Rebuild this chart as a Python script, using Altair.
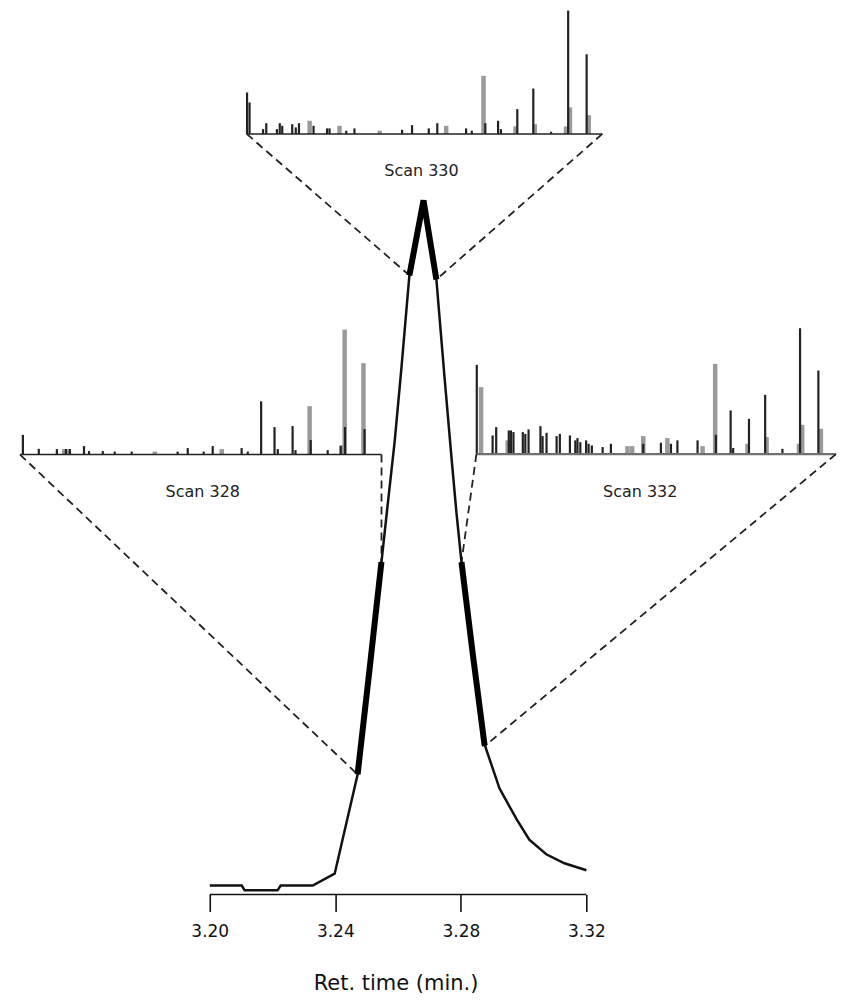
import altair as alt
import numpy as np
import pandas as pd

# ---------------- data ----------------
# total-ion chromatogram (retention time in min, relative intensity)
chrom_t = [3.2000, 3.2102, 3.2111, 3.2216, 3.2226, 3.2328, 3.2398, 3.2471, 3.2509,
           3.2547, 3.2566, 3.2589, 3.2611, 3.2636, 3.2681, 3.2722, 3.2748, 3.2770,
           3.2786, 3.2802, 3.2837, 3.2875, 3.2923, 3.2977, 3.3018, 3.3072, 3.3130, 3.3200]
chrom_i = [1.3, 1.3, 0.6, 0.6, 1.3, 1.3, 3.0, 17.3, 32.4,
           47.9, 55.8, 65.2, 76.0, 89.2, 100.0, 88.6, 74.5, 63.0,
           55.0, 47.9, 35.0, 21.7, 15.3, 10.9, 7.9, 5.8, 4.5, 3.5]

scan_names = ["Scan 328", "Scan 330", "Scan 332"]
scan_start = [3.2471, 3.2636, 3.2802]
scan_end = [3.2547, 3.2722, 3.2877]

axis_ticks = [3.20, 3.24, 3.28, 3.32]

# mass spectra: position along the m/z range (% of width), relative intensity (%)
s328_dark_pos = [0.8, 5.2, 10.2, 12.7, 13.8, 17.7, 19.1, 22.9, 26.2, 30.9, 43.6, 46.4, 50.8,
                 53.3, 61.3, 63.0, 66.7, 70.4, 71.3, 75.4, 76.2, 80.4, 85.1, 88.7, 89.9, 95.3]
s328_dark_int = [15.8, 4.6, 4.4, 4.4, 4.4, 6.8, 2.8, 2.8, 2.4, 2.4, 2.4, 5.2, 2.4,
                 6.8, 5.2, 2.4, 42.6, 22.0, 4.4, 22.8, 3.6, 11.6, 3.6, 6.8, 22.0, 20.4]
s328_gray_pos = [12.2, 13.5, 37.3, 55.8, 80.1, 89.0, 89.8, 95.0]
s328_gray_int = [4.4, 4.4, 2.4, 4.4, 38.7, 7.6, 100.0, 73.1]

s330_dark_pos = [0.1, 0.8, 4.6, 5.5, 8.5, 9.3, 10.0, 12.8, 13.8, 14.7, 18.8, 22.6, 23.3, 28.0,
                 30.3, 43.7, 46.5, 51.2, 53.6, 61.7, 63.3, 67.1, 70.7, 71.5, 76.1, 80.6, 85.6,
                 90.4, 95.6]
s330_dark_int = [33.6, 25.5, 3.9, 8.7, 3.9, 8.7, 6.6, 7.9, 5.3, 8.7, 6.6, 4.5, 4.5, 2.6,
                 4.5, 3.4, 7.1, 4.5, 8.7, 4.5, 2.6, 8.7, 10.7, 3.9, 20.1, 36.8, 1.8,
                 100.0, 64.6]
s330_gray_pos = [17.7, 26.1, 37.4, 56.1, 66.6, 75.6, 81.0, 89.8, 90.9, 96.2]
s330_gray_int = [10.7, 6.6, 2.6, 6.6, 47.1, 6.1, 7.9, 6.1, 21.5, 15.2]

s332_dark_pos = [0.1, 4.5, 5.5, 9.0, 9.6, 10.3, 12.9, 13.6, 14.5, 17.8, 18.4, 19.5, 22.3, 23.2,
                 26.0, 27.5, 28.1, 28.9, 30.5, 31.2, 32.1, 35.1, 37.4, 46.4, 51.3, 54.1, 55.9,
                 61.5, 66.6, 70.7, 71.4, 75.8, 80.3, 85.1, 90.0, 95.1]
s332_dark_int = [70.9, 14.8, 21.4, 18.8, 18.8, 17.5, 17.5, 16.1, 19.6, 22.2, 14.3, 16.9, 14.3, 16.1,
                 14.8, 10.9, 12.7, 9.5, 10.9, 8.2, 6.9, 5.6, 8.2, 8.2, 9.0, 8.2, 10.9,
                 10.9, 15.3, 34.7, 4.8, 28.0, 47.1, 4.2, 100.0, 66.4]
s332_gray_pos = [1.3, 8.7, 42.0, 43.3, 46.4, 53.1, 62.9, 66.4, 75.4, 80.7, 89.7, 90.6, 95.8]
s332_gray_int = [53.2, 10.9, 6.3, 6.3, 14.3, 12.7, 6.3, 71.7, 8.2, 13.5, 8.2, 23.3, 20.1]

spectra = {
    "Scan 328": (s328_dark_pos, s328_dark_int, s328_gray_pos, s328_gray_int),
    "Scan 330": (s330_dark_pos, s330_dark_int, s330_gray_pos, s330_gray_int),
    "Scan 332": (s332_dark_pos, s332_dark_int, s332_gray_pos, s332_gray_int),
}

# ---------------- layout of the insets (in chart coordinates) ----------------
INSETS = {
    #            left t    right t   base y  height  label t   label y  baseline colour, width
    "Scan 328": (3.13954, 3.25473, 63.38, 18.01, 3.19777, 58.0, "#222222", 1.6),
    "Scan 330": (3.21177, 3.32506, 109.57, 17.77, 3.26746, 104.3, "#222222", 1.6),
    "Scan 332": (3.28496, 3.39952, 63.45, 18.13, 3.33715, 58.0, "#707070", 2.4),
}
X_DOMAIN = [3.13572, 3.39984]
Y_DOMAIN = [0, 127.34]
FONT = "DejaVu Sans"

# ---------------- tables ----------------
chrom = pd.DataFrame({"t": chrom_t, "y": chrom_i})

thick_rows = []
for name, a, b in zip(scan_names, scan_start, scan_end):
    ts = [a] + [t for t in chrom_t if a < t < b] + [b]
    for k, t in enumerate(ts):
        thick_rows.append({"scan": name, "t": t, "y": float(np.interp(t, chrom_t, chrom_i)), "o": k})
thick = pd.DataFrame(thick_rows)

bar_rows, base_rows, conn_rows, label_rows = [], [], [], []
for name, a, b in zip(scan_names, scan_start, scan_end):
    tl, tr, y0, h, lx, ly, bcol, bw = INSETS[name]
    dpos, dint, gpos, gint = spectra[name]
    for p, v in zip(gpos, gint):
        bar_rows.append({"scan": name, "kind": "gray", "t": tl + p / 100 * (tr - tl),
                         "y": y0, "y2": y0 + v / 100 * h})
    for p, v in zip(dpos, dint):
        bar_rows.append({"scan": name, "kind": "dark", "t": tl + p / 100 * (tr - tl),
                         "y": y0, "y2": y0 + v / 100 * h})
    base_rows.append({"scan": name, "t": tl, "t2": tr, "y": y0, "col": bcol, "w": bw})
    conn_rows.append({"t": tl, "y": y0, "t2": a, "y2": float(np.interp(a, chrom_t, chrom_i))})
    conn_rows.append({"t": tr, "y": y0, "t2": b, "y2": float(np.interp(b, chrom_t, chrom_i))})
    label_rows.append({"t": lx, "y": ly, "label": name})

bars = pd.DataFrame(bar_rows)
bases = pd.DataFrame(base_rows)
conns = pd.DataFrame(conn_rows)
labels = pd.DataFrame(label_rows)
axis_df = pd.DataFrame({"t": [min(axis_ticks)], "t2": [max(axis_ticks)], "y": [0.0]})

# ---------------- chart ----------------
xs = alt.Scale(domain=X_DOMAIN, nice=False, zero=False)
ys = alt.Scale(domain=Y_DOMAIN, nice=False, zero=False)
xaxis = alt.Axis(values=axis_ticks, format=".2f", domain=False, grid=False,
                 tickSize=17, tickWidth=1.6, tickColor="#111",
                 labelFont=FONT, labelFontSize=17, labelColor="#111", labelPadding=12,
                 title="Ret. time (min.)", titleFont=FONT, titleFontSize=21,
                 titleFontWeight="normal", titleColor="#111",
                 titleX=388, titleY=95, titleAlign="center", titleBaseline="alphabetic")


def X(field):
    return alt.X(field, type="quantitative", scale=xs, axis=xaxis)


def Y(field):
    return alt.Y(field, type="quantitative", scale=ys, axis=None)


gray_bars = alt.Chart(bars[bars.kind == "gray"]).mark_rule(
    color="#9a9a9a", strokeWidth=4.5).encode(x=X("t"), y=Y("y"), y2="y2")
dark_bars = alt.Chart(bars[bars.kind == "dark"]).mark_rule(
    color="#222222", strokeWidth=2.2).encode(x=X("t"), y=Y("y"), y2="y2")
base_lines = alt.Chart(bases).mark_rule().encode(
    x=X("t"), x2="t2", y=Y("y"),
    color=alt.Color("col:N", scale=None), strokeWidth=alt.StrokeWidth("w:Q", scale=None))
connectors = alt.Chart(conns).mark_rule(color="#222", strokeWidth=1.8, strokeDash=[8, 5]).encode(
    x=X("t"), x2="t2", y=Y("y"), y2="y2")
chrom_line = alt.Chart(chrom).mark_line(color="#111", strokeWidth=2.5).encode(
    x=X("t"), y=Y("y"))
thick_line = alt.Chart(thick).mark_line(color="#000", strokeWidth=6).encode(
    x=X("t"), y=Y("y"), detail="scan:N", order="o:Q")
axis_line = alt.Chart(axis_df).mark_rule(color="#111", strokeWidth=1.6).encode(
    x=X("t"), x2="t2", y=Y("y"))
label_text = alt.Chart(labels).mark_text(font=FONT, fontSize=16, color="#222",
                                         align="center", baseline="middle").encode(
    x=X("t"), y=Y("y"), text="label:N")

chart = alt.layer(gray_bars, dark_bars, base_lines, connectors, chrom_line, thick_line,
                  axis_line, label_text).properties(
    width=830, height=885, padding={"left": 0, "top": 0, "right": 0, "bottom": 0},
    background="white"
).configure_view(stroke=None, strokeWidth=0)

chart.save("out.html", embed_options={"renderer": "svg", "actions": False})
